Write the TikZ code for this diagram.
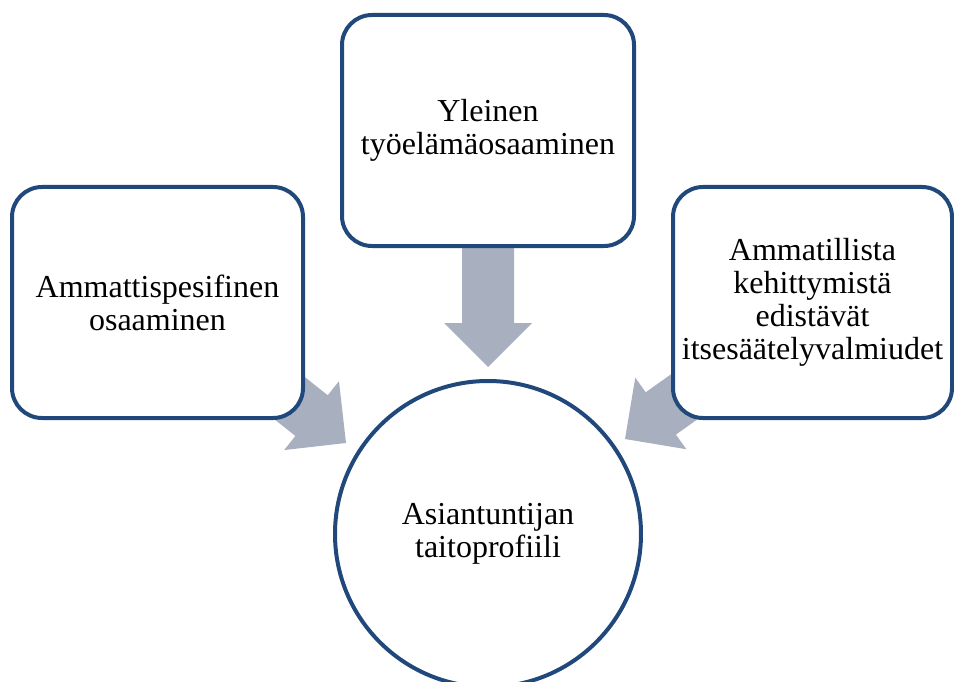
\documentclass[tikz,border=0pt]{standalone}
\usepackage{fontspec}
\setmainfont{Liberation Serif}
\definecolor{borderblue}{RGB}{33,72,122}
\definecolor{arrowgrey}{RGB}{168,175,191}
% block arrow pointing along +x, tip at the local origin
\newcommand\blockarrow[2]{%
  \fill[flow, shift={(#1)}, rotate=#2]
    (-150,-26) -- (-44,-26) -- (-44,-44) -- (0,0) -- (-44,44) -- (-44,26) -- (-150,26) -- cycle;}
\begin{document}
\begin{tikzpicture}[x=1pt, y=-1pt,
  label text/.style={font=\fontsize{32}{33}\selectfont, align=center, inner sep=0pt},
  frame/.style={label text, draw=borderblue, line width=4pt, fill=white,
                rounded corners=30pt, minimum height=231pt},
  hub/.style={label text, circle, draw=borderblue, line width=4pt, fill=white,
              minimum size=306pt},
  flow/.style={fill=arrowgrey}]
  \useasboundingbox (0,0) rectangle (954,682);

  % arrow tips next to the central circle
  \coordinate (tipTop)   at (488,367);
  \coordinate (tipLeft)  at (346,443);
  \coordinate (tipRight) at (625,439);

  % converging arrows, partly hidden under the boxes
  \blockarrow{tipTop}{-90}
  \blockarrow{tipLeft}{-38.5}
  \blockarrow{tipRight}{-144.5}

  % outer boxes
  \node[frame, minimum width=292pt] (general) at (488,130.5)
    {Yleinen\\työelämäosaaminen};
  \node[frame, minimum width=291pt] (specific) at (157.5,302.5)
    {Ammattispesifinen\\osaaminen};
  \node[frame, minimum width=279pt] (selfreg) at (812.5,302.5)
    {Ammatillista\\kehittymistä\\edistävät\\itsesäätelyvalmiudet};

  % centre
  \node[hub] (profile) at (488,534) {Asiantuntijan\\taitoprofiili};
\end{tikzpicture}
\end{document}
